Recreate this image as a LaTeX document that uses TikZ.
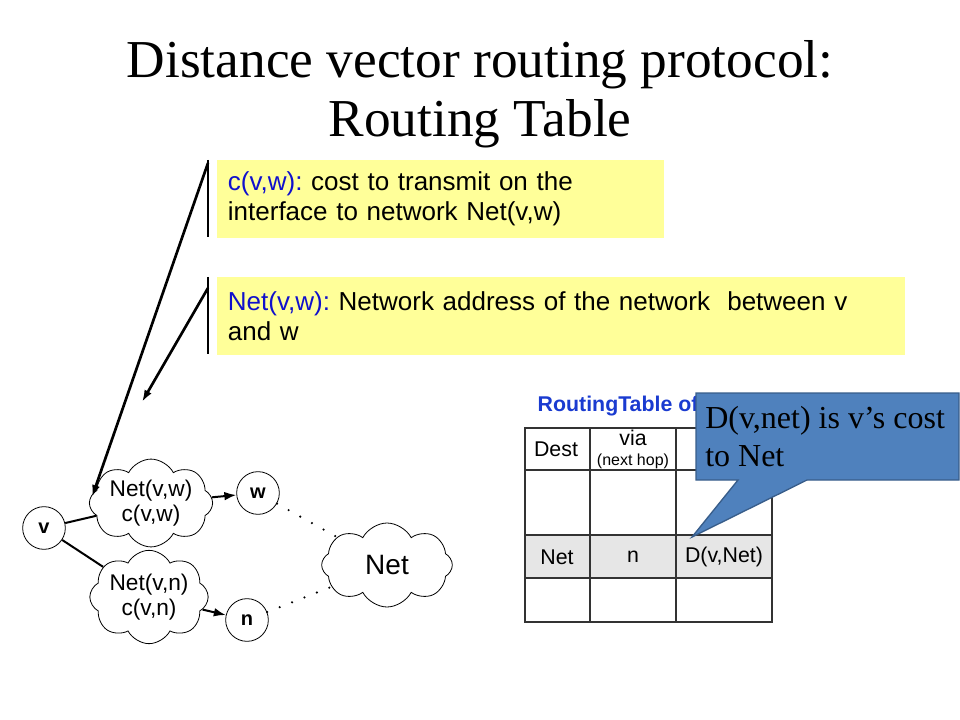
\documentclass[tikz,border=0pt]{standalone}
\usepackage{fontspec}
\setmainfont{Liberation Serif}
\setsansfont{Liberation Sans}
\usepackage{xcolor}
\usetikzlibrary{positioning}
\usetikzlibrary{shapes.symbols}
\usetikzlibrary{arrows.meta}
\definecolor{noteyellow}{HTML}{FFFF99}
\definecolor{termblue}{HTML}{1010CC}
\definecolor{tabblue}{HTML}{1A3BD0}
\definecolor{callblue}{HTML}{4F81BD}
\definecolor{callline}{HTML}{385D8A}
\definecolor{rowgray}{HTML}{E6E6E6}
\frenchspacing

\begin{document}
\begin{tikzpicture}[x=0.75pt,y=-0.75pt,
    router/.style={draw,circle,minimum size=32pt,inner sep=0pt,line width=0.6pt,font=\sffamily\bfseries\fontsize{15}{15}\selectfont},
    link/.style={draw,cloud,cloud puffs=8,cloud puff arc=125,cloud ignores aspect,inner sep=0pt,line width=0.6pt,align=center,font=\sffamily\fontsize{17}{19}\selectfont},
    note/.style={fill=noteyellow,anchor=north west,minimum height=58pt,inner xsep=8pt,align=left,font=\sffamily\fontsize{19.5}{22.5}\selectfont},
    pointer/.style={-{Latex[length=9pt,width=6pt]},line width=2pt},
    hop/.style={line width=1.5pt},
    dots/.style={line width=1.8pt,line cap=round,dash pattern=on 0pt off 10pt},
    cell/.style={font=\sffamily\fontsize{16}{16}\selectfont}]
    \useasboundingbox (0,0) rectangle (960,720);
        \node[font=\fontsize{40}{40}\selectfont,anchor=base] (title1) at (480,78) {Distance vector routing protocol:};
        \node[font=\fontsize{40}{40}\selectfont,anchor=base] (title2) at (480,137) {Routing Table};
        \node[note,text width=319pt] (cost) at (217,160) {\textcolor{termblue}{c(v,w):} cost to transmit on the\\interface to network Net(v,w)};
        \node[note,text width=500pt] (addr) at (217,277) {\textcolor{termblue}{Net(v,w):} Network address of the network~ between v\\and w};
        \draw[line width=2.2pt] (208,160) -- (208,237);
        \draw[line width=2.2pt] (208,277) -- (208,354);
        \coordinate (costbar) at (208,163);
        \coordinate (addrbar) at (208,288);
        \coordinate (costtip) at (92,497);
        \coordinate (addrtip) at (142,402);
        \draw[pointer] (costbar) -- (costtip);
        \draw[pointer] (addrbar) -- (addrtip);
        \node[router] (v) at (44,528) {v};
        \node[router] (w) at (258,493) {w};
        \node[router] (n) at (247,620) {n};
        \node[link,minimum width=81pt,minimum height=65pt] (cw) at (151,503) {Net(v,w)\\c(v,w)};
        \node[link,minimum width=81pt,minimum height=70pt] (cn) at (149,597) {Net(v,n)\\c(v,n)};
        \node[link,minimum width=98pt,minimum height=63pt,font=\sffamily\fontsize{21}{21}\selectfont] (net) at (387,565) {Net};
        \draw[hop] (v) -- (cw);
        \draw[hop] (v) -- (cn);
        \draw[hop,-{Latex[length=9pt,width=6.5pt]}] (cw) -- (w);
        \draw[hop,-{Latex[length=9pt,width=6.5pt]}] (cn) -- (n);
        \draw[dots] (w) -- (net);
        \draw[dots] (n) -- (net);
        \node[anchor=west,text=tabblue,font=\sffamily\bfseries\fontsize{16}{16}\selectfont] (tabtitle) at (533,406) {RoutingTable of};
        \fill[rowgray] (525,535) rectangle (772,578);
        \draw[line width=0.8pt,black!80] (525,428) rectangle (772,622);
        \foreach \y in {470,535,578}
            \draw[line width=0.8pt,black!80] (525,\y) -- (772,\y);
        \foreach \x in {590,676}
            \draw[line width=0.8pt,black!80] (\x,428) -- (\x,622);
        \node[cell] (dest) at (556,449) {Dest};
        \node[cell] (via) at (633,438) {via};
        \node[font=\sffamily\fontsize{12}{12}\selectfont] (nexthop) at (633,461) {(next hop)};
        \node[cell] (netcell) at (557,557) {Net};
        \node[cell] (ncell) at (633,557) {n};
        \node[cell] (dcell) at (724,557) {D(v,Net)};
        \draw[fill=callblue,draw=callline,line width=1pt] (696,393) -- (959,393) -- (959,480) -- (807,480) -- (692,537) -- (738,480) -- (696,480) -- cycle;
        \node[anchor=north west,align=left,inner sep=0pt,font=\fontsize{24}{28.5}\selectfont] (callout) at (705,406) {D(v,net) is v’s cost\\to Net};
\end{tikzpicture}
\end{document}
